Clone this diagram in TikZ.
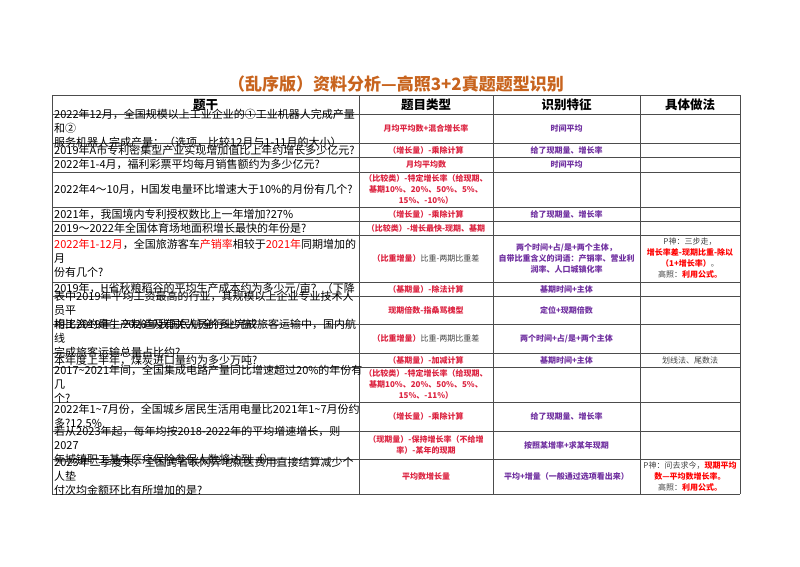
\documentclass[tikz,border=0pt]{standalone}
\usepackage{fontspec}
\setmainfont{Noto Sans CJK SC}
\XeTeXlinebreaklocale "zh"
\XeTeXlinebreakskip=0pt
\begin{document}
\begin{tikzpicture}[x=1pt,y=-1pt,
  q/.style={anchor=west,text width=310pt,align=left,font=\fontsize{11}{14}\selectfont,inner sep=0pt},
  hd/.style={font=\fontsize{12.5}{14}\selectfont\bfseries},
  ty/.style={text width=134pt,align=center,font=\fontsize{8}{11}\selectfont\bfseries,text=rd,inner sep=0pt},
  ft/.style={text width=147pt,align=center,font=\fontsize{8}{11}\selectfont\bfseries,text=pu,inner sep=0pt},
  mt/.style={text width=100pt,align=center,font=\fontsize{8}{11}\selectfont,text=gy,inner sep=0pt},
  grid/.style={draw=black!70,line width=0.8pt}]
\definecolor{rd}{HTML}{DC2340}
\definecolor{pu}{HTML}{7030A0}
\definecolor{gy}{HTML}{404040}
\definecolor{tt}{HTML}{C8641E}
\definecolor{br}{HTML}{FF0000}
\useasboundingbox (0,0) rectangle (800,566);
\node[font=\fontsize{17}{19}\selectfont\bfseries,text=tt] (title) at (396,84) {（乱序版）资料分析—高照3+2真题题型识别};
% grid
\foreach \y in {95,114,143,157,172,207,221,235,282,296,324,353,367,402,431,459,494}
  \draw[grid] (52,\y) -- (740,\y);
\foreach \x in {52,359,493,640,740}
  \draw[grid] (\x,95) -- (\x,494);
% header
\node[hd] (h1) at (205.5,104.5) {题干};
\node[hd] (h2) at (426,104.5) {题目类型};
\node[hd] (h3) at (566.5,104.5) {识别特征};
\node[hd] (h4) at (690,104.5) {具体做法};
% col1
\node[q] (q1) at (54,128.5) {2022年12月，全国规模以上工业企业的①工业机器人完成产量和②\\服务机器人完成产量：（选项，比较12月与1-11月的大小）};
\node[q] (q2) at (54,150) {2019年A市专利密集型产业实现增加值比上年约增长多少亿元?};
\node[q] (q3) at (54,164.5) {2022年1-4月，福利彩票平均每月销售额约为多少亿元?};
\node[q] (q4) at (54,189.5) {2022年4～10月，H国发电量环比增速大于10\%的月份有几个?};
\node[q] (q5) at (54,214) {2021年，我国境内专利授权数比上一年增加?27\%};
\node[q] (q6) at (54,228) {2019～2022年全国体育场地面积增长最快的年份是?};
\node[q] (q7) at (54,258.5) {\textcolor{br}{2022年1-12月}，全国旅游客车\textcolor{br}{产销率}相较于\textcolor{br}{2021年}同期增加的月\\份有几个?};
\node[q] (q8) at (54,289) {2019年，H省秋粮稻谷的平均生产成本约为多少元/亩？（下降};
\node[q] (q9) at (54,310) {表中2019年平均工资最高的行业，其规模以上企业专业技术人员平\\均工资约是生产制造及有关人员的多少倍?};
\node[q] (q10) at (54,338.5) {相比2019年，2020年我国民航全行业完成旅客运输中，国内航线\\完成旅客运输总量占比约?};
\node[q] (q11) at (54,360) {本年度上半年，煤炭进口量约为多少万吨?};
\node[q] (q12) at (54,384.5) {2017\textasciitilde 2021年间，全国集成电路产量同比增速超过20\%的年份有几\\个?};
\node[q] (q13) at (54,416.5) {2022年1\textasciitilde 7月份，全国城乡居民生活用电量比2021年1\textasciitilde 7月份约\\多?12.5\%};
\node[q] (q14) at (54,445) {若从2023年起，每年均按2018-2022年的平均增速增长，则2027\\年城镇职工基本医疗保险参保人数将达到（）。};
\node[q] (q15) at (54,476.5) {2023年二季度末，全国跨省联网异地就医费用直接结算减少个人垫\\付次均金额环比有所增加的是?};
% col2
\node[ty] (t1) at (426,128.5) {月均平均数+混合增长率};
\node[ty] (t2) at (426,150) {（增长量）-乘除计算};
\node[ty] (t3) at (426,164.5) {月均平均数};
\node[ty] (t4) at (426,189.5) {（比较类）-特定增长率（给现期、\\基期10\%、20\%、50\%、5\%、\\15\%、-10\%）};
\node[ty] (t5) at (426,214) {（增长量）-乘除计算};
\node[ty] (t6) at (426,228) {（比较类）-增长最快-现期、基期};
\node[ty] (t7) at (426,258.5) {（比重增量）\textcolor{gy}{\mdseries 比重-两期比重差}};
\node[ty] (t8) at (426,289) {（基期量）-除法计算};
\node[ty] (t9) at (426,310) {现期倍数-指桑骂槐型};
\node[ty] (t10) at (426,338.5) {（比重增量）\textcolor{gy}{\mdseries 比重-两期比重差}};
\node[ty] (t11) at (426,360) {（基期量）-加减计算};
\node[ty] (t12) at (426,384.5) {（比较类）-特定增长率（给现期、\\基期10\%、20\%、50\%、5\%、\\15\%、-11\%）};
\node[ty] (t13) at (426,416.5) {（增长量）-乘除计算};
\node[ty] (t14) at (426,445) {（现期量）-保持增长率（不给增\\率）-某年的现期};
\node[ty] (t15) at (426,476.5) {平均数增长量};
% col3
\node[ft] (f1) at (566.5,128.5) {时间平均};
\node[ft] (f2) at (566.5,150) {给了现期量、增长率};
\node[ft] (f3) at (566.5,164.5) {时间平均};
\node[ft] (f5) at (566.5,214) {给了现期量、增长率};
\node[ft] (f7) at (566.5,258.5) {两个时间+占/是+两个主体，\\自带比重含义的词语：产销率、营业利\\润率、人口城镇化率};
\node[ft] (f8) at (566.5,289) {基期时间+主体};
\node[ft] (f9) at (566.5,310) {定位+现期倍数};
\node[ft] (f10) at (566.5,338.5) {两个时间+占/是+两个主体};
\node[ft] (f11) at (566.5,360) {基期时间+主体};
\node[ft] (f13) at (566.5,416.5) {给了现期量、增长率};
\node[ft] (f14) at (566.5,445) {按照某增率+求某年现期};
\node[ft] (f15) at (566.5,476.5) {平均+增量（一般通过选项看出来）};
% col4
\node[mt] (m7) at (690,258.5) {P神：三步走，\\\textcolor{br}{\bfseries 增长率差-现期比重-除以}\\\textcolor{br}{\bfseries （1+增长率）}。\\高照：\textcolor{br}{\bfseries 利用公式。}};
\node[mt] (m11) at (690,360) {划线法、尾数法};
\node[mt] (m15) at (690,476.5) {P神：问去求今，\textcolor{br}{\bfseries 现期平均}\\\textcolor{br}{\bfseries 数—平均数增长率。}\\高照：\textcolor{br}{\bfseries 利用公式。}};
\end{tikzpicture}
\end{document}
